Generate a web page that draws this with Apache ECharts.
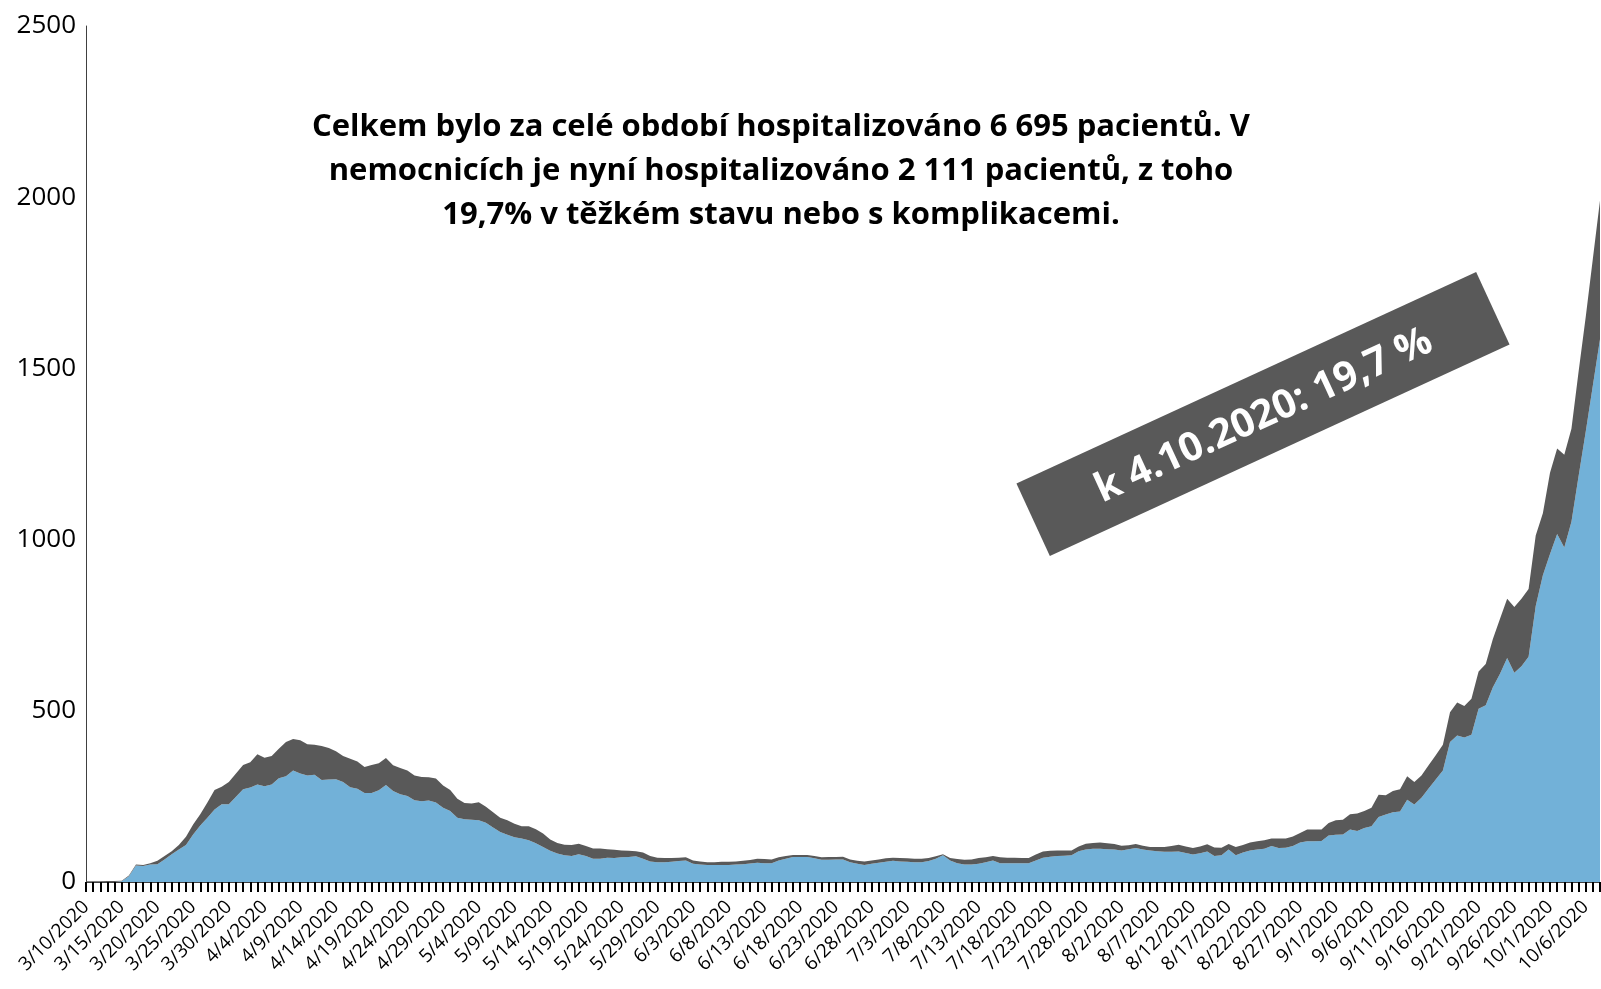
<!DOCTYPE html>
<html>
<head>
<meta charset="utf-8">
<script src="https://cdn.jsdelivr.net/npm/echarts@6/dist/echarts.min.js"></script>
<style>
  html, body { margin: 0; padding: 0; background: #fff; }
  #chart { width: 1601px; height: 989px; }
</style>
</head>
<body>
<div id="chart"></div>
<script>
// hospitalizovaní – lehký stav (modrá) a těžký stav / komplikace (šedá), 10.3. – 8.10.2020
const startDay = new Date(2020, 2, 10);
const dayCount = 213;

const lehky = [
  0, 0, 0, 0, 0, 2, 17, 48, 47, 51,
  52, 66, 81, 95, 108, 139, 165, 188, 212, 227,
  227, 249, 271, 276, 285, 280, 285, 303, 309, 326,
  317, 311, 313, 298, 299, 300, 292, 277, 272, 260,
  260, 268, 283, 266, 256, 251, 239, 236, 238, 232,
  217, 207, 188, 183, 182, 180, 173, 159, 146, 138,
  131, 127, 122, 113, 102, 91, 83, 78, 76, 81,
  76, 68, 68, 71, 70, 72, 73, 75, 68, 60,
  58, 58, 59, 61, 63, 53, 51, 50, 50, 50,
  50, 51, 52, 54, 56, 55, 55, 63, 68, 73,
  73, 73, 69, 65, 65, 66, 66, 58, 53, 50,
  53, 56, 59, 62, 60, 59, 58, 58, 61, 68,
  78, 63, 55, 51, 51, 53, 58, 63, 55, 55,
  55, 55, 55, 63, 71, 74, 76, 77, 78, 90,
  95, 97, 97, 96, 95, 92, 96, 99, 95, 92,
  90, 88, 88, 89, 85, 80, 84, 89, 76, 78,
  95, 78, 86, 92, 95, 97, 105, 99, 100, 105,
  115, 119, 119, 120, 136, 138, 139, 153, 149, 158,
  163, 190, 197, 204, 206, 240, 226, 246, 273, 299,
  326, 409, 428, 422, 430, 506, 516, 569, 608, 654,
  611, 630, 658, 806, 896, 958, 1016, 977, 1052, 1185,
  1315, 1450, 1585
];

const tezky = [
  2, 2, 2, 3, 3, 2, 2, 3, 3, 4,
  10, 10, 9, 13, 24, 29, 33, 44, 57, 51,
  65, 68, 71, 74, 88, 83, 83, 86, 100, 92,
  97, 91, 88, 99, 92, 82, 76, 83, 80, 76,
  82, 79, 79, 75, 77, 75, 72, 71, 68, 70,
  65, 62, 55, 48, 47, 53, 47, 45, 42, 42,
  39, 36, 41, 41, 40, 33, 31, 31, 32, 31,
  29, 30, 30, 25, 24, 20, 18, 15, 18, 16,
  13, 12, 11, 10, 9, 10, 9, 8, 8, 9,
  9, 9, 10, 10, 12, 12, 11, 9, 8, 6,
  6, 6, 7, 7, 8, 7, 8, 8, 9, 10,
  10, 10, 10, 9, 10, 10, 10, 10, 9, 7,
  3, 7, 12, 14, 15, 17, 14, 13, 17, 16,
  16, 15, 15, 17, 18, 17, 16, 15, 14, 14,
  17, 17, 18, 17, 16, 14, 11, 12, 11, 10,
  12, 14, 17, 20, 19, 19, 20, 21, 25, 22,
  16, 24, 22, 23, 24, 25, 22, 28, 27, 28,
  28, 34, 34, 33, 36, 42, 43, 45, 51, 49,
  54, 65, 56, 62, 65, 69, 66, 65, 68, 71,
  75, 87, 96, 92, 105, 109, 121, 141, 161, 173,
  192, 197, 198, 206, 181, 237, 250, 271, 272, 305,
  335, 370, 405
];

const yTicks = [0, 500, 1000, 1500, 2000, 2500];

const titleLines = [
  "Celkem bylo za celé období hospitalizováno 6 695 pacientů. V",
  "nemocnicích je nyní hospitalizováno 2 111 pacientů, z toho",
  "19,7% v těžkém stavu nebo s komplikacemi."
];
const boxText = "k 4.10.2020: 19,7 %";

// datumy ve formátu M/D/YYYY
const dates = [];
for (let i = 0; i < dayCount; i++) {
  const d = new Date(startDay.getTime());
  d.setDate(d.getDate() + i);
  dates.push((d.getMonth() + 1) + "/" + d.getDate() + "/" + d.getFullYear());
}

const chart = echarts.init(document.getElementById("chart"), null, { renderer: "canvas" });

const option = {
  animation: false,
  backgroundColor: "#ffffff",
  grid: { left: 86, right: 1, top: 26, bottom: 107, containLabel: false },
  xAxis: {
    type: "category",
    data: dates,
    boundaryGap: false,
    axisLine: { show: true, lineStyle: { color: "#404040", width: 1 } },
    axisTick: { show: true, interval: 0, alignWithLabel: true, length: 10, lineStyle: { color: "#000", width: 2 } },
    axisLabel: {
      interval: 4,
      rotate: 45,
      margin: 22,
      color: "#000",
      fontFamily: "Open Sans",
      fontSize: 19
    },
    splitLine: { show: false }
  },
  yAxis: {
    type: "value",
    min: yTicks[0],
    max: yTicks[yTicks.length - 1],
    interval: 500,
    axisLine: { show: true, lineStyle: { color: "#404040", width: 1 } },
    axisTick: { show: false },
    axisLabel: {
      margin: 10,
      color: "#000",
      fontFamily: "Open Sans",
      fontSize: 26,
      formatter: (v) => String(v)
    },
    splitLine: { show: false }
  },
  series: [
    {
      name: "lehký stav",
      type: "line",
      stack: "celkem",
      data: lehky,
      showSymbol: false,
      symbol: "none",
      lineStyle: { width: 0 },
      areaStyle: { color: "#72b1d8", opacity: 1 },
      z: 2
    },
    {
      name: "těžký stav",
      type: "line",
      stack: "celkem",
      data: tezky,
      showSymbol: false,
      symbol: "none",
      lineStyle: { width: 0 },
      areaStyle: { color: "#595959", opacity: 1 },
      z: 2
    }
  ],
  graphic: [
    {
      type: "text",
      style: {
        text: titleLines.join("\n"),
        x: 781,
        y: 105,
        textAlign: "center",
        textVerticalAlign: "top",
        fill: "#000",
        font: "bold 31px 'Open Sans'",
        lineHeight: 44
      },
      z: 10
    },
    {
      type: "group",
      x: 1263,
      y: 414,
      rotation: 24.7 * Math.PI / 180,
      z: 10,
      children: [
        {
          type: "rect",
          shape: { x: -253, y: -40, width: 506, height: 80 },
          style: { fill: "#595959" }
        },
        {
          type: "text",
          style: {
            text: boxText,
            x: 0,
            y: 2,
            textAlign: "center",
            textVerticalAlign: "middle",
            fill: "#fff",
            font: "bold 40px 'Open Sans'"
          }
        }
      ]
    }
  ]
};

chart.setOption(option);
</script>
</body>
</html>
